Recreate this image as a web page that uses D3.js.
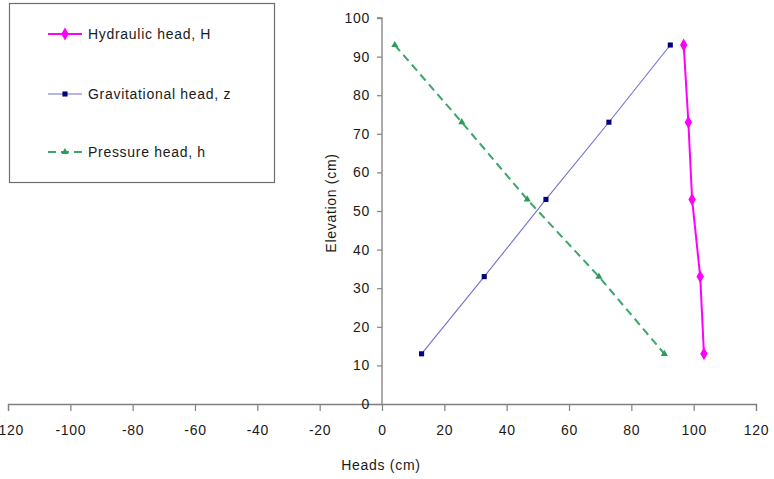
<!DOCTYPE html>
<html><head><meta charset="utf-8">
<script src="https://cdn.jsdelivr.net/npm/d3@7"></script>
<style>body{margin:0;background:#fff;} svg{display:block;font-family:"Liberation Sans",Arial,sans-serif;}</style>
</head><body>
<svg id="c" width="774" height="479"></svg>
<script>
const elevation = [93, 73, 53, 33, 13];
const hydraulicHead = [96.8, 98.3, 99.5, 102.1, 103.3];
const gravitationalHead = [92.5, 72.8, 52.6, 32.8, 12.7];
const pressureHead = [4.1, 25.6, 46.6, 69.6, 90.6];
const xTicks = [-120, -100, -80, -60, -40, -20, 0, 20, 40, 60, 80, 100, 120];
const yTicks = [0, 10, 20, 30, 40, 50, 60, 70, 80, 90, 100];
const seriesNames = ["Hydraulic head, H", "Gravitational head, z", "Pressure head, h"];

const svg = d3.select("#c");
const x = d3.scaleLinear().domain([-120, 120]).range([8, 756]);
const y = d3.scaleLinear().domain([0, 100]).range([404, 18]);

const axisColor = "#808080";
const fs = 14, ls = 0.7, tc = "#1a1a1a";
const gx = svg.append("g").attr("transform", `translate(0,${y(0)})`)
  .call(d3.axisBottom(x).tickValues(xTicks).tickSize(7).tickPadding(14).tickFormat(d => String(d)));
const gy = svg.append("g").attr("transform", `translate(${x(0)},0)`)
  .call(d3.axisLeft(y).tickValues(yTicks).tickSize(5).tickPadding(7).tickFormat(d => String(d)));
[gx, gy].forEach(g => {
  g.select(".domain").attr("stroke", axisColor).attr("stroke-width", 1.3);
  g.selectAll(".tick line").attr("stroke", axisColor).attr("stroke-width", 1.2);
  g.selectAll(".tick text").attr("fill", tc).attr("font-size", fs).attr("letter-spacing", ls)
    .attr("font-family", "Liberation Sans, Arial, sans-serif");
});
gy.select(".domain").attr("d", `M-5,${y(100)}H0V${y(0)}`);

svg.append("text").attr("x", 381).attr("y", 470).attr("text-anchor", "middle")
  .attr("font-size", fs).attr("letter-spacing", ls).attr("fill", tc).text("Heads (cm)");
svg.append("text").attr("transform", `translate(336,203) rotate(-90)`).attr("text-anchor", "middle")
  .attr("font-size", fs).attr("letter-spacing", ls).attr("fill", tc).text("Elevation (cm)");

const series = [
  {vals: hydraulicHead, line: "#ff00ff", width: 2, dash: null, mark: "diamond", mcol: "#ff00ff"},
  {vals: gravitationalHead, line: "#7070d0", width: 1.1, dash: null, mark: "square", mcol: "#000080"},
  {vals: pressureHead, line: "#3aa66a", width: 2, dash: "8,5", mark: "triangle", mcol: "#2e9a5c"}
];
const symbols = {diamond: d3.symbolDiamond, square: d3.symbolSquare, triangle: d3.symbolTriangle};
const sizes = {diamond: 48, square: 26, triangle: 22};

series.forEach(s => {
  const pts = s.vals.map((v, i) => [v, elevation[i]]);
  svg.append("path").datum(pts).attr("fill", "none").attr("stroke", s.line)
    .attr("stroke-width", s.width).attr("stroke-dasharray", s.dash)
    .attr("d", d3.line().x(d => x(d[0])).y(d => y(d[1])));
  svg.selectAll(null).data(pts).join("path")
    .attr("transform", d => `translate(${x(d[0])},${y(d[1])})`)
    .attr("d", d3.symbol(symbols[s.mark], sizes[s.mark])()).attr("fill", s.mcol);
});

// legend
const lg = svg.append("g");
lg.append("rect").attr("x", 9.5).attr("y", 3.5).attr("width", 265).attr("height", 179)
  .attr("fill", "#fff").attr("stroke", "#6e6e6e").attr("stroke-width", 1.2);
const ly = [34, 94, 152];
series.forEach((s, i) => {
  lg.append("line").attr("x1", 48).attr("x2", 82).attr("y1", ly[i]).attr("y2", ly[i])
    .attr("stroke", s.line).attr("stroke-width", s.width).attr("stroke-dasharray", s.dash);
  lg.append("path").attr("transform", `translate(65,${ly[i]})`)
    .attr("d", d3.symbol(symbols[s.mark], sizes[s.mark])()).attr("fill", s.mcol);
  lg.append("text").attr("x", 88).attr("y", ly[i] + 5).attr("font-size", fs).attr("letter-spacing", ls)
    .attr("fill", tc).text(seriesNames[i]);
});
</script>
</body></html>
